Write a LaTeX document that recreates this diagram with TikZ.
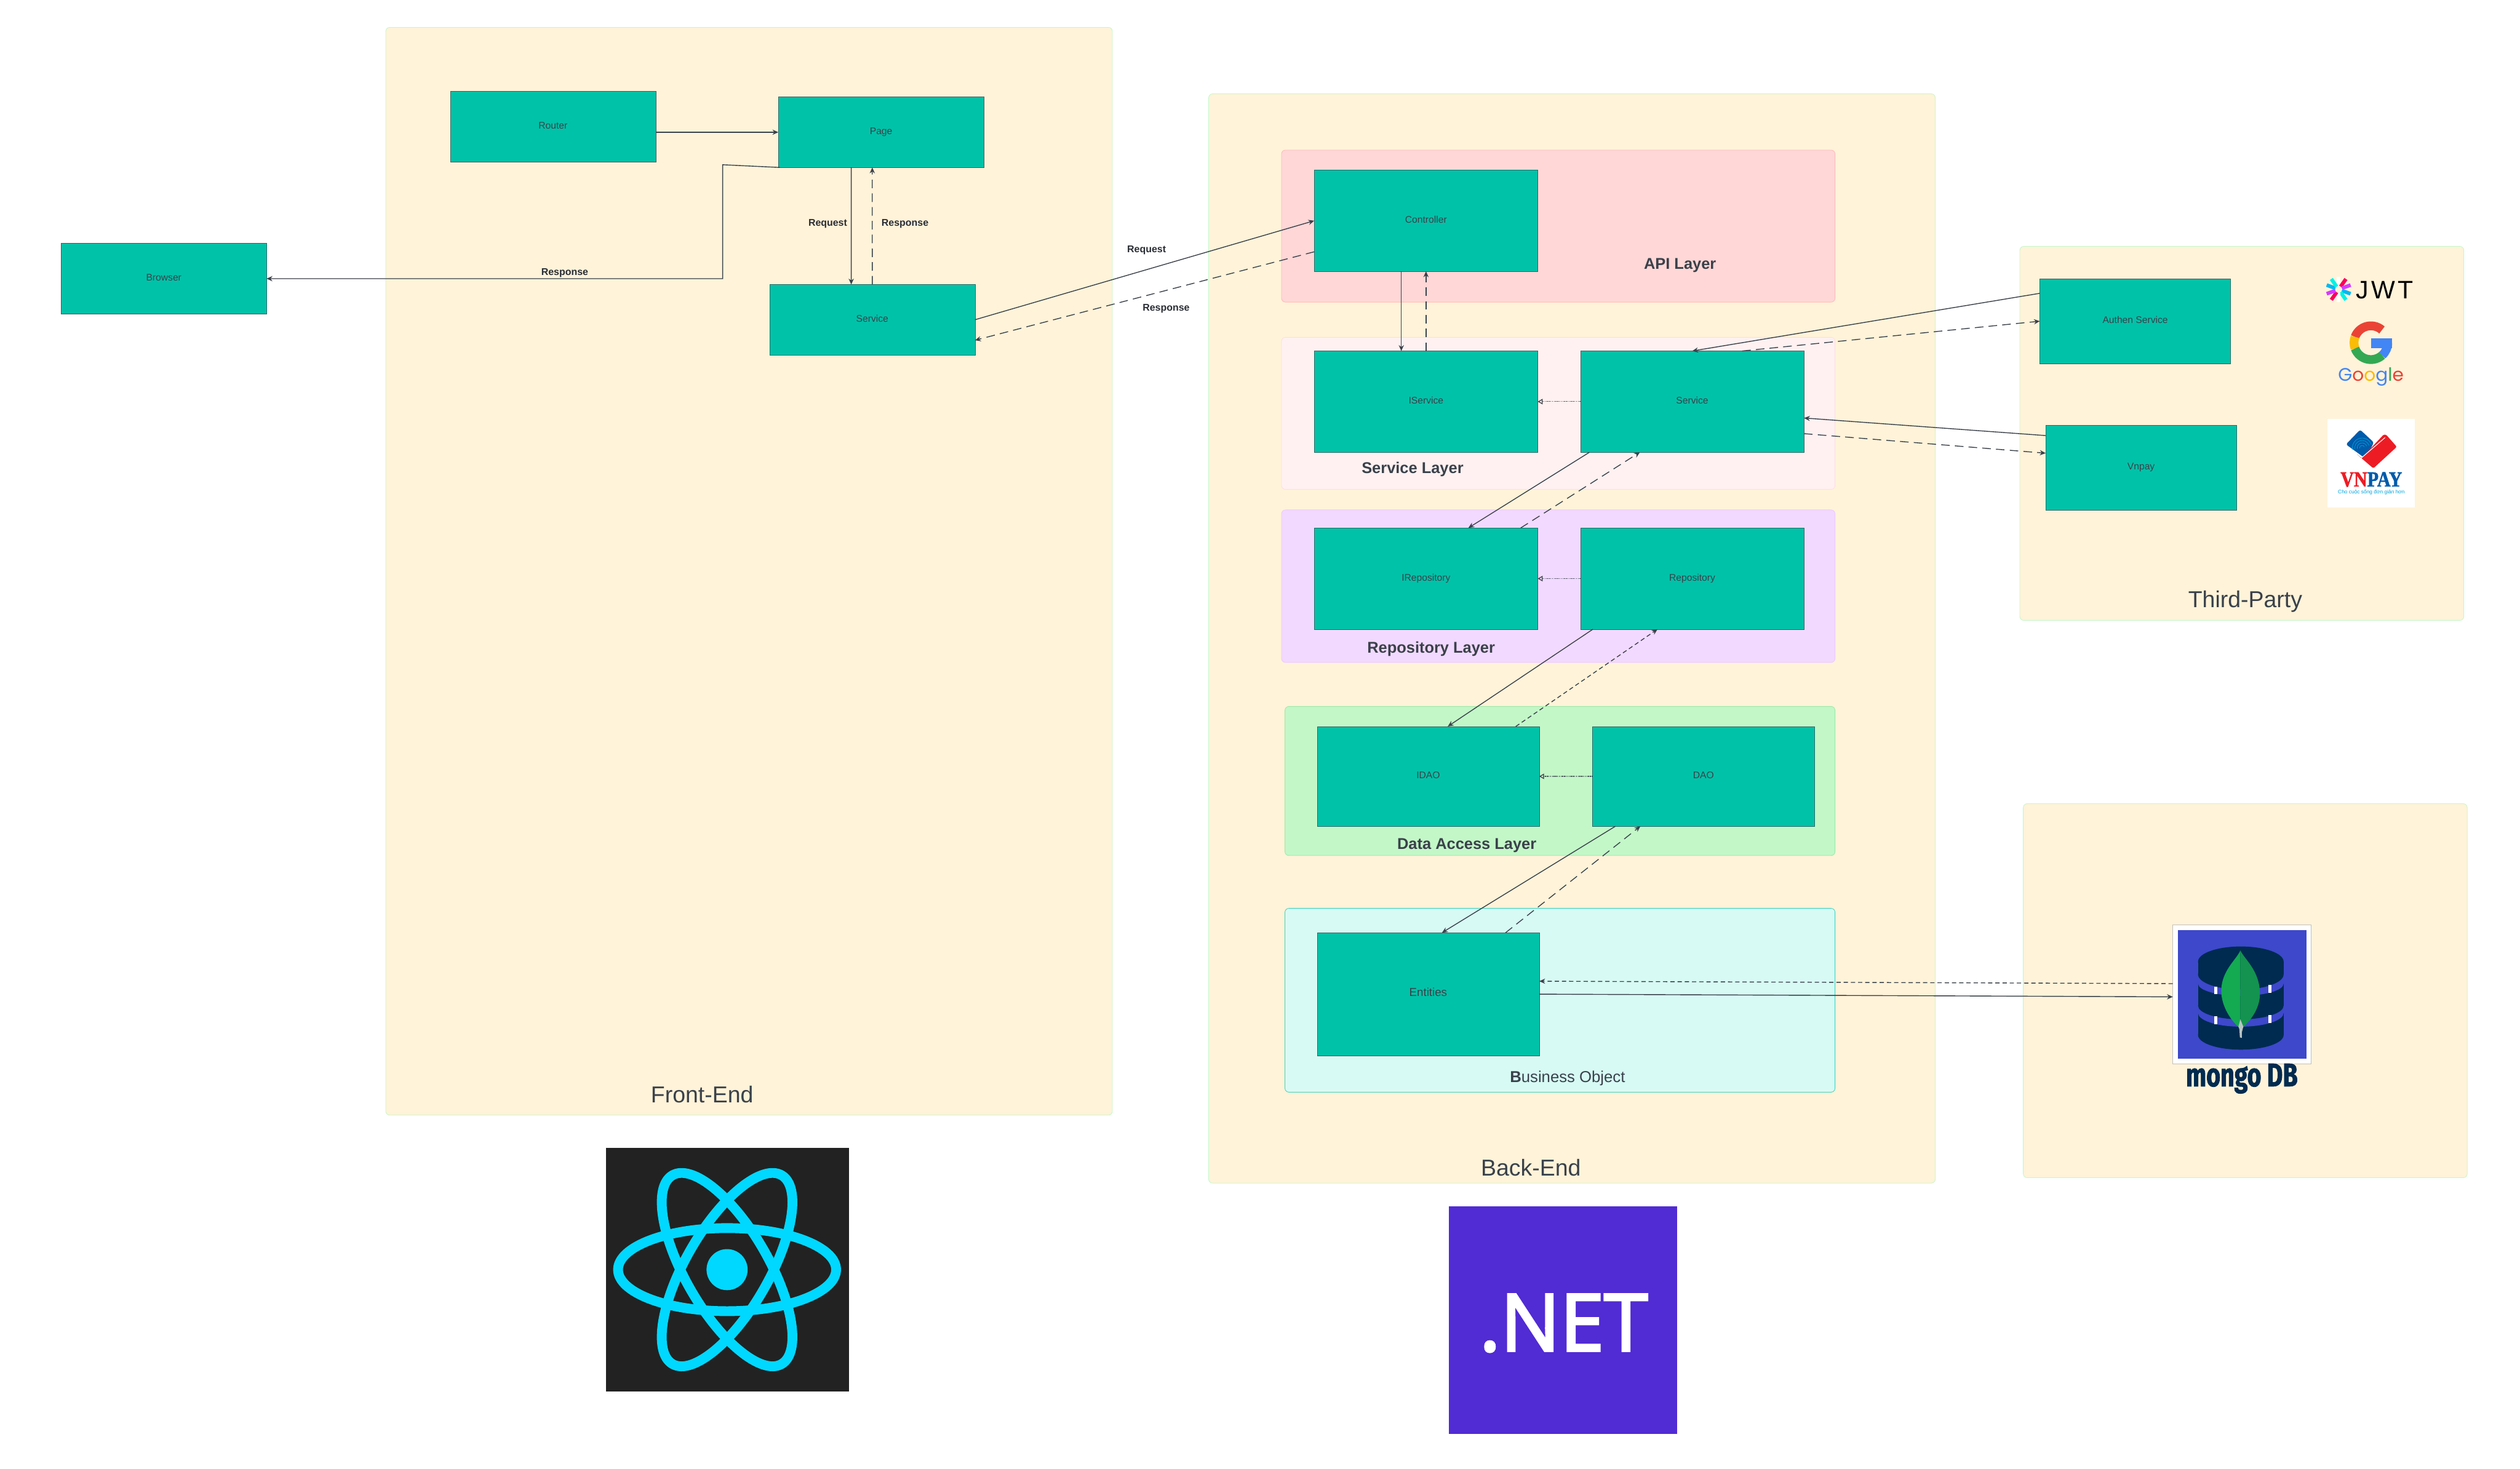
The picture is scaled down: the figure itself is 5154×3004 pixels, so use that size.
\documentclass[tikz,border=0pt]{standalone}
\usepackage{fontspec}
\usepackage{xcolor}
\usepackage{tikz}
\usetikzlibrary{arrows.meta,positioning,calc}
\setmainfont{Liberation Sans}
\newfontfamily\netfont[FakeBold=3]{Open Sans}
\newfontfamily\googlefont{Poppins}
\newfontfamily\vnfont[FakeStretch=0.86,FakeBold=1.5]{Liberation Serif}
\newfontfamily\mongofont[FakeStretch=0.74,FakeBold=1.5]{Fira Sans}
\definecolor{panelfill}{HTML}{FFF3D9}
\definecolor{panelline}{HTML}{C3F7C8}
\definecolor{boxfill}{HTML}{00C2A8}
\definecolor{inkline}{HTML}{3A414A}
\definecolor{apifill}{HTML}{FFD7D7}
\definecolor{apiline}{HTML}{FFB8B8}
\definecolor{svcfill}{HTML}{FFF1F1}
\definecolor{svcline}{HTML}{FFDDE2}
\definecolor{repofill}{HTML}{F2D9FF}
\definecolor{repoline}{HTML}{EDC8FF}
\definecolor{dalfill}{HTML}{C3F7C8}
\definecolor{dalline}{HTML}{9CE8A6}
\definecolor{bofill}{HTML}{D7FAF4}
\definecolor{boline}{HTML}{3FD2BC}
\definecolor{reactbg}{HTML}{222222}
\definecolor{reactcyan}{HTML}{00D8FF}
\definecolor{netbg}{HTML}{512BD4}
\definecolor{mongobg}{HTML}{3D48CB}
\definecolor{mongodark}{HTML}{002B50}
\definecolor{leafleft}{HTML}{13AA52}
\definecolor{leafright}{HTML}{13934F}
\definecolor{leafstem}{HTML}{B8C4C2}
\definecolor{googred}{HTML}{EA4335}
\definecolor{googyellow}{HTML}{FBBC05}
\definecolor{googgreen}{HTML}{34A853}
\definecolor{googblue}{HTML}{4285F4}
\definecolor{vnred}{HTML}{ED1C24}
\definecolor{vnblue}{HTML}{005BAA}
\definecolor{vnsky}{HTML}{00A4E0}
\definecolor{jwtred}{HTML}{FB015B}
\definecolor{jwtpink}{HTML}{D63AFF}
\definecolor{jwtblue}{HTML}{00B9F1}
\definecolor{jwtcyan}{HTML}{00F2E6}

\begin{document}
\begin{tikzpicture}[
    x=0.01cm, y=-0.01cm,
    panel/.style={draw=panelline, fill=panelfill, line width=0.3pt, rounded corners=0.08cm},
    layer/.style={line width=0.3pt, rounded corners=0.08cm},
    compbox/.style={draw=inkline!70!boxfill, fill=boxfill, line width=0.2pt, inner sep=0pt, outer sep=0pt, text=inkline, text height=0.14cm, text depth=0.05cm, font=\fontsize{5.6}{7}\selectfont},
    febox/.style={compbox, minimum width=4.2cm, minimum height=1.44cm},
    bebox/.style={compbox, minimum width=4.57cm, minimum height=2.07cm},
    dalbox/.style={compbox, minimum width=4.54cm, minimum height=2.04cm},
    thirdbox/.style={compbox, minimum width=3.9cm, minimum height=1.74cm},
    linklabel/.style={font=\fontsize{5.7}{7}\selectfont\bfseries, text=inkline!70!black},
    layerlabel/.style={font=\fontsize{9.1}{11}\selectfont\bfseries, text=inkline},
    panellabel/.style={font=\fontsize{13.4}{16}\selectfont, text=inkline},
    solidlink/.style={draw=inkline, line width=0.5pt, -{Stealth[length=3.4pt,width=3pt]}},
    dashlink/.style={solidlink, dash pattern=on 5pt off 3pt},
    shortdash/.style={solidlink, dash pattern=on 2.5pt off 1.7pt},
    implements/.style={draw=inkline, line width=0.45pt, dash pattern=on 0.5pt off 0.5pt, -{Triangle[open,length=2.8pt,width=3.2pt]}}
]
    \useasboundingbox (0,0) rectangle (5154,3004);

    \draw[panel] (789,56) rectangle (2275,2281);
    \draw[panel] (2472,192) rectangle (3958,2420);
    \draw[panel] (4131,504) rectangle (5039,1269);
    \draw[panel] (4138,1644) rectangle (5046,2409);

    \draw[layer, draw=apiline, fill=apifill] (2621,307) rectangle (3753,618);
    \draw[layer, draw=svcline, fill=svcfill] (2621,690) rectangle (3753,1001);
    \draw[layer, draw=repoline, fill=repofill] (2621,1043) rectangle (3753,1355);
    \draw[layer, draw=dalline, fill=dalfill] (2628,1445) rectangle (3753,1750);
    \draw[layer, draw=boline, fill=bofill] (2628,1858) rectangle (3753,2234);

    \node[febox] (browser) at (335,570) {Browser};
    \node[febox] (router) at (1131,259) {Router};
    \node[febox] (page) at (1802,270.5) {Page};
    \node[febox] (fesvc) at (1784,654) {Service};

    \node[bebox] (ctrl) at (2916.5,451.5) {Controller};
    \node[bebox] (isvc) at (2916.5,821.5) {IService};
    \node[bebox] (svc) at (3461,821.5) {Service};
    \node[bebox] (irepo) at (2916.5,1183.5) {IRepository};
    \node[bebox] (repo) at (3461,1183.5) {Repository};
    \node[dalbox] (idao) at (2921,1588) {IDAO};
    \node[dalbox] (dao) at (3484,1588) {DAO};
    \node[dalbox, minimum height=2.51cm, font=\fontsize{6.7}{8}\selectfont] (ent) at (2921,2033.5) {Entities};

    \node[thirdbox] (authen) at (4367,657) {Authen Service};
    \node[thirdbox] (vnpay) at (4379,956.5) {Vnpay};

    \node[layerlabel] (apilabel) at (3436,543) {API Layer};
    \node[layerlabel] (svclabel) at (2889,960) {Service Layer};
    \node[layerlabel] (repolabel) at (2927,1328) {Repository Layer};
    \node[layerlabel] (dallabel) at (3000,1729) {Data Access Layer};
    \node[font=\fontsize{9.2}{11}\selectfont, text=inkline] (bolabel) at (3206,2205) {\textbf{B}usiness Object};

    \node[panellabel] (felabel) at (1436,2239) {Front-End};
    \node[panellabel] (belabel) at (3131,2388) {Back-End};
    \node[panellabel] (tplabel) at (4592,1231) {Third-Party};

    \node[linklabel] (reqpage) at (1693,458) {Request};
    \node[linklabel] (respage) at (1851,458) {Response};
    \node[linklabel] (resbrowser) at (1155,558) {Response};
    \node[linklabel] (reqapi) at (2345,512) {Request};
    \node[linklabel] (resapi) at (2385,631) {Response};

    \node[draw=black!25, fill=white, line width=0.4pt, minimum width=2.83cm, minimum height=2.84cm, inner sep=0pt, outer sep=0pt] (mongologo) at (4585.5,2034) {};

    \coordinate (pagebend) at (1478,337);
    \draw[solidlink] (router.east |- page.west) -- (page.west);
    \draw[solidlink] ([xshift=0.03cm]page.south west) -- (pagebend) |- (browser.east);
    \draw[solidlink] ([xshift=-0.61cm]page.south) -- ([xshift=-0.43cm]fesvc.north);
    \draw[dashlink] (fesvc.north) -- ([xshift=-0.18cm]page.south);
    \draw[solidlink] (fesvc.east) -- (ctrl.west);
    \draw[dashlink] ([yshift=-0.635cm]ctrl.west) -- ([yshift=-0.42cm]fesvc.east);

    \draw[solidlink] ([xshift=-0.505cm]ctrl.south) -- ([xshift=-0.505cm]isvc.north);
    \draw[dashlink] (isvc.north) -- (ctrl.south);
    \draw[implements] (svc.west) -- (isvc.east);
    \draw[implements] (repo.west) -- (irepo.east);
    \draw[implements] (dao.west) -- (idao.east);

    \draw[solidlink] ([yshift=0.57cm]authen.west) -- (svc.north);
    \draw[dashlink] ([xshift=1.02cm]svc.north) -- (authen.west);
    \draw[solidlink] ([yshift=0.655cm]vnpay.west) -- ([yshift=-0.335cm]svc.east);
    \draw[dashlink] ([yshift=-0.655cm]svc.east) -- ([yshift=0.295cm]vnpay.west);

    \draw[solidlink] ([xshift=-2.1cm]svc.south) -- ([xshift=0.865cm]irepo.north);
    \draw[dashlink] ([xshift=1.935cm]irepo.north) -- ([xshift=-1.07cm]svc.south);
    \draw[solidlink] ([xshift=-2.03cm]repo.south) -- ([xshift=0.4cm]idao.north);
    \draw[shortdash] ([xshift=1.79cm]idao.north) -- ([xshift=-0.71cm]repo.south);
    \draw[solidlink] ([xshift=-1.8cm]dao.south) -- ([xshift=0.28cm]ent.north);
    \draw[dashlink] ([xshift=1.58cm]ent.north) -- ([xshift=-1.29cm]dao.south);
    \draw[solidlink] (ent.east) -- ([yshift=-0.05cm]mongologo.west);
    \draw[shortdash] ([yshift=0.22cm]mongologo.west) -- ([yshift=0.265cm]ent.east);

    \fill[reactbg] (1239,2348) rectangle (1736,2846);
    \coordinate (reactcore) at (1487,2597);
    \foreach \ang in {0,60,120} {
        \draw[reactcyan, line width=0.2cm, rotate around={\ang:(reactcore)}] (reactcore) ellipse [x radius=223, y radius=85];
    }
    \fill[reactcyan] (reactcore) circle [radius=42];

    \fill[netbg] (2963,2468) rectangle (3430,2933);
    \node[anchor=base, text=white, inner sep=0pt, font=\fontsize{46}{50}\netfont] (nettext) at (3198,2763) {.NET};

    \fill[mongobg] (4454,1902) rectangle (4717,2165);
    \foreach \top/\bot/\dip/\rnd in {2072/2117/28/30, 2012/2057/25/28} {
        \fill[mongodark] (4583,\bot) ellipse [x radius=87.5, y radius=\rnd];
        \fill[mongodark] (4495.5,\top) rectangle (4670.5,\bot);
        \fill[mongobg] (4583,\top) ellipse [x radius=87.5, y radius=\dip];
    }
    \fill[mongodark] (4583,1967) ellipse [x radius=87.5, y radius=31];
    \fill[mongodark] (4583,1993) ellipse [x radius=87.5, y radius=31];
    \fill[mongodark] (4495.5,1967) rectangle (4670.5,1993);
    \foreach \xa/\ya in {4528/2018, 4639/2015, 4528/2079, 4639/2076} {
        \fill[white] (\xa,\ya) rectangle +(7,16);
    }
    \fill[leafleft] (4582,1944) .. controls (4575,1962) and (4543,1985) .. (4543,2027) .. controls (4543,2060) and (4565,2090) .. (4580,2102) -- (4582,2085) -- cycle;
    \fill[leafright] (4582,1944) .. controls (4590,1962) and (4622,1985) .. (4622,2033) .. controls (4622,2065) and (4600,2090) .. (4587,2102) -- (4582,2085) -- cycle;
    \fill[leafstem] (4582,2085) -- (4588,2100) -- (4585,2112) -- (4585,2123) -- (4581,2122) -- (4580,2105) -- (4578,2100) -- cycle;
    \node[anchor=base, inner sep=0pt, text=mongodark, font=\fontsize{19}{22}\mongofont\bfseries] (mongotext) at (4585,2222) {mongo DB};

    \coordinate (jwtstar) at (4783,592);
    \foreach \ang/\col in {90/white, 55/jwtred, 20/jwtpink, -20/jwtblue, -55/jwtcyan, -90/white, -125/jwtred, -160/jwtpink, 160/jwtblue, 125/jwtcyan} {
        \draw[\col, line width=0.075cm] ($(jwtstar)+(\ang:0.07cm)$) -- ($(jwtstar)+(\ang:0.26cm)$);
    }
    \node[anchor=base west, inner sep=0pt, text=black, font=\fontsize{14.7}{16}\selectfont\addfontfeature{LetterSpace=11}] (jwttext) at (4818,611) {JWT};

    \coordinate (gmark) at (4849,701);
    \foreach \ga/\gb/\col in {49/160/googred, 160/200/googyellow, 200/312/googgreen, 312/360/googblue} {
        \draw[\col, line width=0.18cm] (gmark) ++(\ga:0.345cm) arc [start angle=\ga, end angle=\gb, radius=0.345cm];
    }
    \fill[googblue] (4850,692) rectangle (4892,712);
    \node[anchor=base, inner sep=0pt, font=\fontsize{10.6}{13}\googlefont] (googletext) at (4849,779) {\textcolor{googblue}{G}\textcolor{googred}{o}\textcolor{googyellow}{o}\textcolor{googblue}{g}\textcolor{googgreen}{l}\textcolor{googred}{e}};

    \fill[white] (4760,857) rectangle (4939,1038);
    \fill[vnblue, rounded corners=0.04cm] (4827,879) -- (4798,909) -- (4838,938) -- (4855,905) -- cycle;
    \coordinate (fingerprint) at (4831,916);
    \foreach \rr in {0.05,0.1,0.15,0.2} {
        \draw[vnsky, line width=0.25pt] (fingerprint) ++(20:\rr cm) arc [start angle=20, end angle=190, radius=\rr cm];
    }
    \fill[vnred, rounded corners=0.03cm] (4819,928) -- (4830,937) -- (4875,889) -- (4880,889) -- (4902,914) -- (4854,958) -- cycle;
    \draw[white, line width=0.4pt] (4828,938) -- (4878,895);
    \node[anchor=base, inner sep=0pt, font=\fontsize{12.5}{14}\vnfont\bfseries] (vntext) at (4850,995) {\textcolor{vnred}{VN}\textcolor{vnblue}{PAY}};
    \node[inner sep=0pt, text=vnsky, font=\fontsize{3}{4}\selectfont] (vntag) at (4850,1007) {Cho cuộc sống đơn giản hơn};
\end{tikzpicture}
\end{document}
